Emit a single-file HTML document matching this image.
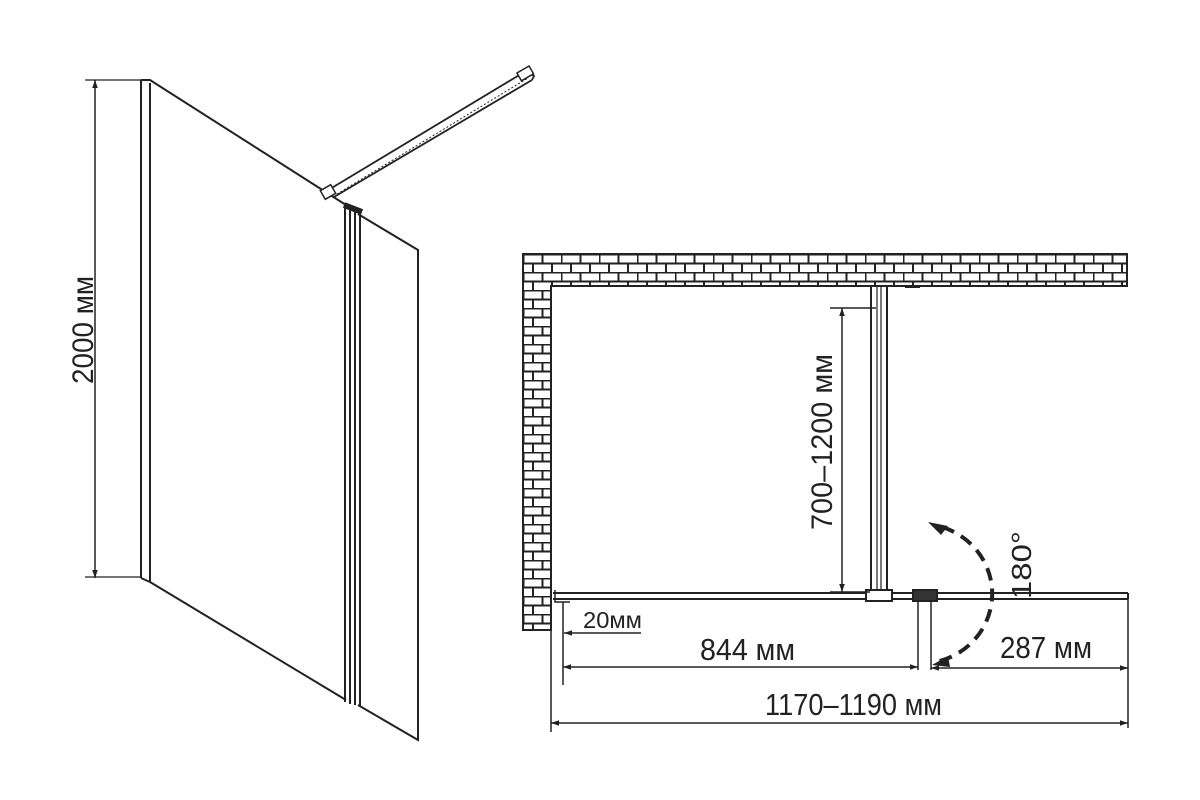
<!DOCTYPE html>
<html><head><meta charset="utf-8"><style>html,body{margin:0;padding:0;background:#fff}svg{display:block}</style></head>
<body>
<svg width="1200" height="800" viewBox="0 0 1200 800" xmlns="http://www.w3.org/2000/svg" font-family="'Liberation Sans Narrow','Liberation Sans',sans-serif" fill="none" stroke="#222">
<defs>
<pattern id="br" x="523" y="254" width="38" height="18" patternUnits="userSpaceOnUse">
<rect width="38" height="18" fill="#fff" stroke="none"/>
<path d="M0 0.5H38M0 9.5H38M0.5 0V9M19.5 0V9M10 9V18M29 9V18" stroke="#222" stroke-width="2"/>
</pattern>
<marker id="a" viewBox="0 0 10 10" refX="10" refY="5" markerWidth="10" markerHeight="8" orient="auto-start-reverse" markerUnits="userSpaceOnUse"><path d="M0 1.5L10 5L0 8.5Z" fill="#222" stroke="none"/></marker>
</defs>
<g stroke-width="2">
<path d="M95 80V578" stroke-width="1.5" marker-start="url(#a)" marker-end="url(#a)"/>
<path d="M85 80H141M85 577H141" stroke-width="1.3"/>
<path d="M141 80V578M150 83V582"/>
<path d="M141 80L150 80L346 205M150 582L346 700M141 578L150 582"/>
<path d="M345 205V702M350 207V704M355 208V705M360 210V706"/>
<path d="M358 214L418 250V740L358 705"/>
<path d="M344 205L362 212" stroke-width="6"/>
<path d="M330 189L526 71M334 197L532 80M526 71L534 76L532 80" stroke-width="1.8"/>
<path d="M337 194L528 78" stroke-width="1" stroke-dasharray="2 2"/>
<rect x="322" y="187" width="12" height="10" stroke-width="1.5" fill="#fff" transform="rotate(-30 328 192)"/>
<rect x="518" y="69" width="14" height="9" stroke-width="1.5" fill="#fff" transform="rotate(-30 525 73)"/>
</g>
<text x="0" y="0" transform="translate(93,330) rotate(-90)" text-anchor="middle" font-size="30" fill="#222" stroke="none" textLength="108" lengthAdjust="spacingAndGlyphs">2000 мм</text>
<path d="M523 254H1127V286H551V630H523Z" fill="url(#br)" stroke="#222" stroke-width="2"/>
<g stroke-width="2">
<rect x="871" y="286" width="16" height="312" fill="#fff"/>
<path d="M877 286V598M881 286V598" stroke-width="1.2"/>
<path d="M553 593H1128M553 599H1128M1128 593V599"/>
<rect x="866" y="590" width="26" height="11" fill="#fff"/>
<rect x="913" y="590" width="24" height="11" fill="#333"/>
<path d="M555 590V602H570" stroke-width="1.5"/>
<path d="M905 287H920" stroke-width="2"/>
</g>
<g stroke-width="1.5">
<path d="M842 308V592" marker-start="url(#a)" marker-end="url(#a)"/>
<path d="M830 308H876M830 592H870"/>
<path d="M551 598V732M563 602V685M918 600V670M931 600V670M1128 599V728"/>
<path d="M563 667H918" marker-start="url(#a)" marker-end="url(#a)"/>
<path d="M931 668H1128" marker-start="url(#a)" marker-end="url(#a)"/>
<path d="M551 723H1128" marker-start="url(#a)" marker-end="url(#a)"/>
<path d="M641 633H564" marker-end="url(#a)"/>
</g>
<path d="M942 527A72 70 0 0 1 936 662" stroke-width="4" stroke-dasharray="13 8"/>
<path d="M928 522L948 526L941 535Z M932 665L948 656L950 667Z" fill="#222" stroke="none"/>
<g fill="#222" stroke="none">
<text x="0" y="0" transform="translate(832,442) rotate(-90)" text-anchor="middle" font-size="30" textLength="176" lengthAdjust="spacingAndGlyphs">700–1200 мм</text>
<text x="0" y="0" transform="translate(1031,565) rotate(-90)" text-anchor="middle" font-size="28" textLength="68" lengthAdjust="spacingAndGlyphs">180°</text>
<text x="583" y="628" font-size="23" textLength="59" lengthAdjust="spacingAndGlyphs">20мм</text>
<text x="700" y="660" font-size="31" textLength="95" lengthAdjust="spacingAndGlyphs">844 мм</text>
<text x="1000" y="658" font-size="31" textLength="92" lengthAdjust="spacingAndGlyphs">287 мм</text>
<text x="765" y="715" font-size="31" textLength="177" lengthAdjust="spacingAndGlyphs">1170–1190 мм</text>
</g>
</svg>
</body></html>
